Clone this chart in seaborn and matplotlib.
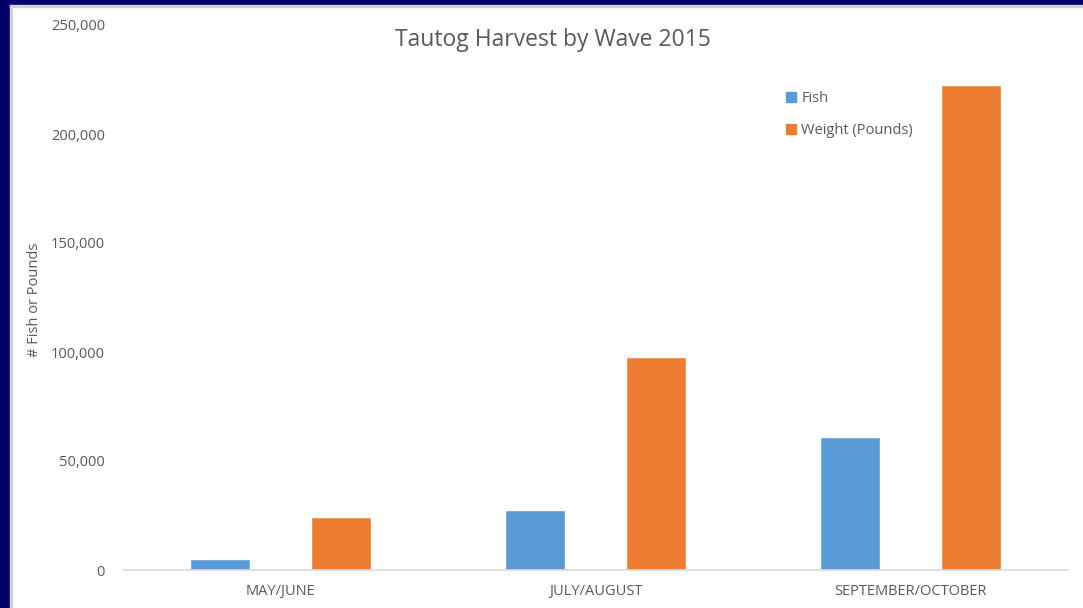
import matplotlib
matplotlib.use("Agg")
import matplotlib.pyplot as plt
import matplotlib.patches as mpatches
import seaborn as sns
import pandas as pd
from matplotlib.ticker import FuncFormatter

categories = ["MAY/JUNE", "JULY/AUGUST", "SEPTEMBER/OCTOBER"]
fish = [5000, 27300, 61200]
weight = [24400, 97700, 222300]
series_names = ["Fish", "Weight (Pounds)"]
yticks = [0, 50000, 100000, 150000, 200000, 250000]

df = pd.DataFrame({
    "wave": categories * 2,
    "value": fish + weight,
    "series": [series_names[0]] * 3 + [series_names[1]] * 3,
})

sns.set_theme(style="white")
plt.rcParams["font.family"] = ["Open Sans", "DejaVu Sans"]

W, H = 1083, 608
fig = plt.figure(figsize=(W / 100, H / 100), dpi=100)
fig.patch.set_facecolor("white")

# navy frame
fig.add_artist(mpatches.Rectangle((0, 1 - 5 / H), 1, 5 / H, transform=fig.transFigure,
                                  color="#000066", zorder=0))
fig.add_artist(mpatches.Rectangle((0, 0), 10 / W, 1, transform=fig.transFigure,
                                  color="#000066", zorder=0))
fig.add_artist(mpatches.Rectangle((10 / W, 0), 1.5 / W, 1 - 5 / H, transform=fig.transFigure,
                                  color="#D0D0D8", zorder=0))
fig.add_artist(mpatches.Rectangle((10 / W, 1 - 6.5 / H), 1 - 10 / W, 1.5 / H, transform=fig.transFigure,
                                  color="#D0D0D8", zorder=0))

left, right, top, bottom = 123, 1068, 25, 570
ax = fig.add_axes([left / W, 1 - bottom / H, (right - left) / W, (bottom - top) / H])

palette = {"Fish": "#5B9BD5", "Weight (Pounds)": "#ED7D31"}
sns.barplot(data=df, x="wave", y="value", hue="series", palette=palette,
            width=0.77, gap=0.5, ax=ax, legend=False, saturation=1, errorbar=None)

ax.set_xlim(-0.5, 2.5)
ax.set_ylim(0, 250000)
ax.set_yticks(yticks)
ax.yaxis.set_major_formatter(FuncFormatter(lambda v, p: f"{int(v):,}"))
ax.set_xlabel("")
ax.set_ylabel("")
for s in ["top", "right", "left"]:
    ax.spines[s].set_visible(False)
ax.spines["bottom"].set_color("#D9D9D9")
ax.spines["bottom"].set_linewidth(1.2)
ax.tick_params(axis="both", length=0, colors="#595959", labelsize=10.5)
ax.tick_params(axis="y", pad=13)
ax.tick_params(axis="x", pad=10)
ax.patch.set_alpha(0)

fig.text(553 / W, 1 - 40 / H, "Tautog Harvest by Wave 2015", ha="center", va="center",
         fontsize=16.5, color="#595959")
fig.text(35 / W, 1 - 300 / H, "# Fish or Pounds", ha="center", va="center", rotation=90,
         fontsize=10.5, color="#595959")

handles = [mpatches.Patch(color=palette[n], label=n) for n in series_names]
leg = ax.legend(handles=handles, loc="upper left",
                bbox_to_anchor=((786 - left) / (right - left), 1 - (91 - top) / (bottom - top)),
                frameon=False, handlelength=0.7, handleheight=0.7, handletextpad=0.35,
                labelspacing=1.15, fontsize=10.5, borderaxespad=0, borderpad=0)
for t in leg.get_texts():
    t.set_color("#595959")

fig.savefig("out.png", dpi=100, facecolor="white")
